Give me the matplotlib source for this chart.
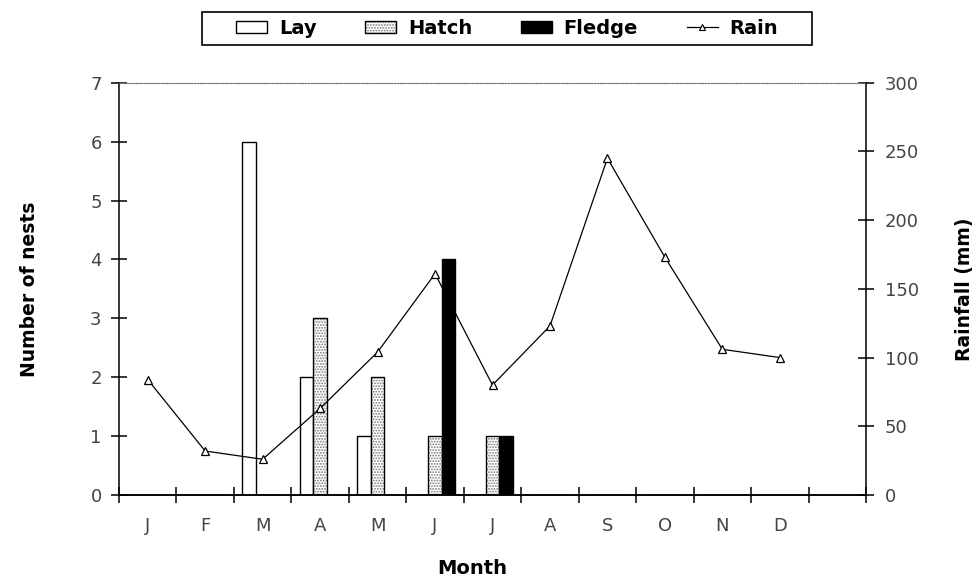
import numpy as np
import matplotlib
matplotlib.use("Agg")
import matplotlib.pyplot as plt
import matplotlib.patches as mpatches
from matplotlib.lines import Line2D

# data
months = ["J", "F", "M", "A", "M", "J", "J", "A", "S", "O", "N", "D"]
lay = [0, 0, 6, 2, 1, 0, 0, 0, 0, 0, 0, 0]
hatch = [0, 0, 0, 3, 2, 1, 1, 0, 0, 0, 0, 0]
fledge = [0, 0, 0, 0, 0, 4, 1, 0, 0, 0, 0, 0]
rain = [84, 32, 26, 63, 104, 161, 80, 123, 245, 173, 106, 100]

plt.rcParams['font.family'] = ['DejaVu Sans']
plt.rcParams['hatch.linewidth'] = 0.9

W, H = 978, 578
fig = plt.figure(figsize=(W / 100, H / 100), dpi=100)
ax = fig.add_axes([119 / W, 1 - 495 / H, (866 - 119) / W, (495 - 82.7) / H])

x = np.arange(len(months)) + 0.5
w = 0.235
stipple = '#7a7a7a'

# bars
ax.bar(x - w, lay, w, facecolor='white', edgecolor='black', linewidth=1)
ax.bar(x, hatch, w, facecolor='white', edgecolor=stipple, hatch='......', linewidth=0)
ax.bar(x, hatch, w, fill=False, edgecolor='black', linewidth=1)
ax.bar(x + w, fledge, w, facecolor='black', edgecolor='black', linewidth=1)

ax.set_xlim(0, 13)
ax.set_ylim(0, 7)

# rainfall on the right axis
ax2 = ax.twinx()
ax2.plot(x, rain, color='black', linewidth=0.9, marker='^', markersize=5.5,
         markerfacecolor='white', markeredgecolor='black', markeredgewidth=0.9)
ax2.set_ylim(0, 300)
ax2.set_xlim(0, 13)

# spines
for a in (ax, ax2):
    a.spines['top'].set_linestyle((0, (1, 1.5)))
    a.spines['top'].set_color('#777777')
    a.spines['top'].set_linewidth(0.8)
    for s in ('left', 'right', 'bottom'):
        a.spines[s].set_linewidth(1.1)
ax.spines['right'].set_visible(False)
ax2.spines['left'].set_visible(False)

# ticks
ax.set_xticks(np.arange(14))
ax.set_xticklabels([])
ax.set_xticks(x, minor=True)
ax.set_xticklabels(months, minor=True)
ax.tick_params(axis='x', which='major', direction='inout', length=11, width=1.1)
ax.tick_params(axis='x', which='minor', length=0, pad=16, labelsize=13, labelcolor='#444444')
ax.set_yticks(range(8))
ax.tick_params(axis='y', direction='inout', length=11, width=1.1, pad=7,
               labelsize=13, labelcolor='#444444')
ax2.set_yticks(range(0, 301, 50))
ax2.tick_params(axis='y', direction='inout', length=11, width=1.1, pad=8,
                labelsize=13, labelcolor='#444444')

# axis titles
fig.text(30 / W, 1 - 289 / H, "Number of nests", rotation=90, ha='center', va='center',
         fontsize=13.5, fontweight='bold')
fig.text(965 / W, 1 - 289 / H, "Rainfall (mm)", rotation=90, ha='center', va='center',
         fontsize=13.5, fontweight='bold')
fig.text(472 / W, 1 - 569 / H, "Month", ha='center', va='center',
         fontsize=14, fontweight='bold')

# legend
h_lay = mpatches.Patch(facecolor='white', edgecolor='black', linewidth=1)
h_hatch = (mpatches.Patch(facecolor='white', edgecolor=stipple, hatch='......', linewidth=0),
           mpatches.Patch(fill=False, edgecolor='black', linewidth=1))
h_fledge = mpatches.Patch(facecolor='black', edgecolor='black')
h_rain = Line2D([], [], color='black', linewidth=0.9, marker='^', markersize=4.5,
                markerfacecolor='white', markeredgecolor='black', markeredgewidth=0.8)
fig.legend([h_lay, h_hatch, h_fledge, h_rain], ["Lay", "Hatch", "Fledge", "Rain"],
           ncol=4, loc='center', bbox_to_anchor=(507 / W, 1 - 28.5 / H), frameon=False,
           prop={'weight': 'bold', 'size': 14}, handlelength=1.6, handleheight=0.6,
           handletextpad=0.6, columnspacing=2.5)
fig.patches.append(mpatches.Rectangle((202 / W, 1 - 45 / H), 610 / W, 33 / H,
                                      transform=fig.transFigure, fill=False,
                                      edgecolor='black', linewidth=1.2))

fig.savefig("out.png", dpi=100)
